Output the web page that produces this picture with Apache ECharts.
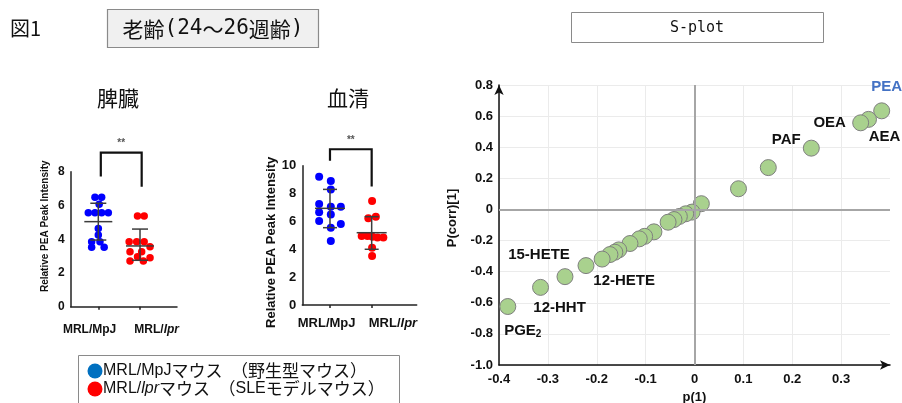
<!DOCTYPE html>
<html>
<head>
<meta charset="utf-8">
<script src="https://cdn.jsdelivr.net/npm/echarts@6/dist/echarts.min.js"></script>
<style>
  html, body { margin: 0; padding: 0; background: #fff; }
  #main { width: 902px; height: 403px; }
</style>
</head>
<body>
<div id="main"></div>
<script>
// Spleen (脾臓): [jitter position, value]
var spleenMpj = [[0.92, 6.48], [1.08, 6.48], [1.02, 6.07], [0.76, 5.57], [0.92, 5.57], [1.08, 5.57], [1.24, 5.57],
    [1.0, 4.64], [1.0, 4.25], [0.84, 3.85], [1.04, 3.85], [0.84, 3.52], [1.14, 3.52]];
var spleenLpr = [[1.94, 5.38], [2.10, 5.38], [1.74, 3.85], [1.92, 3.85], [2.10, 3.85], [2.24, 3.56],
    [1.76, 3.26], [2.04, 3.26], [1.94, 2.96], [2.24, 2.9], [1.76, 2.71], [2.08, 2.71]];
// [group, mean, mean - SD, mean + SD]
var spleenBars = [[1, 5.04, 3.95, 6.13], [2, 3.6, 2.75, 4.6]];
// [x left, left foot, x right, right foot, top]
var spleenBracket = [[1.06, 7.71, 2.04, 7.11, 9.13]];

// Serum (血清)
var serumMpj = [[0.74, 9.21], [1.02, 8.9], [1.02, 8.3], [0.74, 7.25], [1.02, 7.06], [1.26, 7.06], [0.74, 6.65],
    [1.02, 6.5], [0.74, 6.03], [1.26, 5.81], [1.02, 5.55], [1.02, 4.59]];
var serumLpr = [[2.01, 7.46], [2.1, 6.34], [1.92, 6.22], [1.76, 4.95], [1.9, 4.95], [2.02, 4.9],
    [2.14, 4.85], [2.28, 4.85], [2.01, 4.11], [2.01, 3.52]];
var serumBars = [[1, 6.94, 5.55, 8.3], [2, 5.19, 4.0, 6.34]];
var serumBracket = [[1.0, 10.36, 2.0, 8.5, 11.18]];

// S-plot: [p(1), P(corr)[1]]
var splotPoints = [[0.383, 0.634], [0.356, 0.579], [0.340, 0.557], [0.239, 0.394], [0.151, 0.269], [0.090, 0.133],
    [0.014, 0.037], [-0.005, -0.017], [-0.018, -0.028], [-0.031, -0.045], [-0.042, -0.065], [-0.054, -0.082],
    [-0.083, -0.144], [-0.102, -0.173], [-0.113, -0.189], [-0.132, -0.219], [-0.155, -0.26], [-0.163, -0.275],
    [-0.173, -0.29], [-0.189, -0.319], [-0.222, -0.361], [-0.265, -0.432], [-0.315, -0.501], [-0.382, -0.624]];
var splotNames = ['PEA', 'AEA', 'OEA', 'PAF', '', '', '', '', '', '', '', '', '', '', '', '', '', '', '',
    '12-HETE', '15-HETE', '', '12-HHT', 'PGE2'];

var groupNames = ['MRL/MpJ', 'MRL/lpr'];

// label placement around points (px)
var labelOffsets = {
    'PEA': [5, -24], 'AEA': [16, 17], 'OEA': [-31, 0], 'PAF': [-25, -8],
    '12-HETE': [22, 22], '15-HETE': [-47, -11], '12-HHT': [19, 20], 'PGE2': [15, 24]
};

var LATIN = 'Liberation Sans, Arial, sans-serif';
var JP = '"Noto Sans CJK JP", sans-serif';
var MONO = '"DejaVu Sans Mono", monospace';

function errorBarItem(halfMean, halfCap) {
    return function(params, api) {
        var mid = api.coord([api.value(0), api.value(1)]);
        var lo = api.coord([api.value(0), api.value(2)]);
        var hi = api.coord([api.value(0), api.value(3)]);
        var st = { stroke: '#3c3c3c', lineWidth: 1.5 };
        return {
            type: 'group',
            children: [
                { type: 'line', shape: { x1: mid[0] - halfMean, y1: mid[1], x2: mid[0] + halfMean, y2: mid[1] }, style: st },
                { type: 'line', shape: { x1: mid[0], y1: lo[1], x2: mid[0], y2: hi[1] }, style: st },
                { type: 'line', shape: { x1: lo[0] - halfCap, y1: lo[1], x2: lo[0] + halfCap, y2: lo[1] }, style: st },
                { type: 'line', shape: { x1: hi[0] - halfCap, y1: hi[1], x2: hi[0] + halfCap, y2: hi[1] }, style: st }
            ]
        };
    };
}

function bracketItem(params, api) {
    var a = api.coord([api.value(0), api.value(1)]);
    var b = api.coord([api.value(2), api.value(3)]);
    var topY = api.coord([api.value(0), api.value(4)])[1];
    return {
        type: 'group',
        children: [
            { type: 'polyline', shape: { points: [[a[0], a[1]], [a[0], topY], [b[0], topY], [b[0], b[1]]] },
              style: { stroke: '#111', lineWidth: 2.2, fill: null } },
            { type: 'text', x: (a[0] + b[0]) / 2, y: topY - 9,
              style: { text: '**', fill: '#555', font: 'bold 10px ' + LATIN, align: 'center', verticalAlign: 'middle' } }
        ]
    };
}

function groupLabel(fontSize) {
    return {
        color: '#111',
        fontWeight: 'bold',
        fontSize: fontSize,
        fontFamily: LATIN,
        formatter: function(v) {
            return v < 1.5 ? '{n|' + groupNames[0] + '}' : '{n|MRL/}{i|lpr}';
        },
        rich: {
            n: { fontWeight: 'bold', fontSize: fontSize, fontFamily: LATIN, color: '#111' },
            i: { fontWeight: 'bold', fontStyle: 'italic', fontSize: fontSize, fontFamily: LATIN, color: '#111' }
        }
    };
}

function smallYAxis(idx, max, nameSize, labelSize, nameGap, namePad) {
    return {
        type: 'value', gridIndex: idx, min: 0, max: max, interval: 2,
        name: 'Relative PEA Peak Intensity', nameLocation: 'middle', nameGap: nameGap,
        nameTextStyle: { fontWeight: 'bold', fontSize: nameSize, fontFamily: LATIN, color: '#111', padding: namePad },
        axisLine: { show: true, lineStyle: { color: '#222', width: 1.5 } },
        axisTick: { show: false },
        axisLabel: { color: '#111', fontWeight: 'bold', fontSize: labelSize, fontFamily: LATIN, margin: 6 },
        splitLine: { show: false }
    };
}

function decimalLabel(v) {
    return Math.abs(v) < 1e-9 ? '0' : v.toFixed(1);
}

var chart = echarts.init(document.getElementById('main'));

var option = {
    animation: false,
    backgroundColor: '#fff',
    grid: [
        { left: 70.7, top: 171.7, width: 106.3, height: 135, outerBoundsMode: 'none', containLabel: false },
        { left: 302.3, top: 165.7, width: 114.4, height: 139.3, outerBoundsMode: 'none', containLabel: false },
        { left: 499, top: 85, right: 12, bottom: 38, outerBoundsMode: 'none', containLabel: false }
    ],
    xAxis: [
        {
            type: 'value', gridIndex: 0, min: 0.338, max: 2.887,
            axisLine: { show: true, onZero: false, lineStyle: { color: '#222', width: 1.5 } },
            axisTick: { show: true, customValues: [1, 2], length: 3, lineStyle: { color: '#222', width: 1.5 } },
            axisLabel: Object.assign({ customValues: [0.79, 2.4], margin: 17 }, groupLabel(12)),
            splitLine: { show: false }
        },
        {
            type: 'value', gridIndex: 1, min: 0.336, max: 3.08,
            axisLine: { show: true, onZero: false, lineStyle: { color: '#222', width: 1.5 } },
            axisTick: { show: true, customValues: [1, 2], length: 3, lineStyle: { color: '#222', width: 1.5 } },
            axisLabel: Object.assign({ customValues: [0.92, 2.51], margin: 12 }, groupLabel(13)),
            splitLine: { show: false }
        },
        {
            type: 'value', gridIndex: 2, min: -0.4, max: 0.4, interval: 0.1,
            name: 'p(1)', nameLocation: 'middle', nameGap: 26,
            nameTextStyle: { fontWeight: 'bold', fontSize: 13, fontFamily: LATIN, color: '#111' },
            axisLine: { show: true, onZero: false, symbol: ['none', 'arrow'], symbolSize: [7, 10],
                        lineStyle: { color: '#111', width: 1.5 } },
            axisTick: { show: false },
            axisLabel: { color: '#111', fontWeight: 'bold', fontSize: 13, fontFamily: LATIN, margin: 8,
                         showMaxLabel: false, formatter: decimalLabel },
            splitLine: { show: true, showMaxLine: false, lineStyle: { color: '#ebebeb', width: 1 } }
        }
    ],
    yAxis: [
        smallYAxis(0, 8, 10, 12, 20, [0, 0, 0, 26]),
        smallYAxis(1, 10, 13, 13, 24, [0, 14, 0, 0]),
        {
            type: 'value', gridIndex: 2, min: -1, max: 0.8, interval: 0.2,
            name: 'P(corr)[1]', nameLocation: 'middle', nameGap: 40,
            nameTextStyle: { fontWeight: 'bold', fontSize: 13, fontFamily: LATIN, color: '#111', padding: [0, 0, 0, 14] },
            axisLine: { show: true, onZero: false, symbol: ['none', 'arrow'], symbolSize: [7, 10],
                        lineStyle: { color: '#111', width: 1.5 } },
            axisTick: { show: false },
            axisLabel: { color: '#111', fontWeight: 'bold', fontSize: 13, fontFamily: LATIN, margin: 6,
                         formatter: decimalLabel },
            splitLine: { show: true, lineStyle: { color: '#ebebeb', width: 1 } }
        }
    ],
    series: [
        { type: 'scatter', xAxisIndex: 0, yAxisIndex: 0, data: spleenMpj, symbolSize: 7.5,
          itemStyle: { color: '#0000ff', opacity: 1 }, z: 2 },
        { type: 'scatter', xAxisIndex: 0, yAxisIndex: 0, data: spleenLpr, symbolSize: 7.5,
          itemStyle: { color: '#ff0000', opacity: 1 }, z: 2 },
        { type: 'custom', xAxisIndex: 0, yAxisIndex: 0, data: spleenBars, renderItem: errorBarItem(14, 8), z: 3 },
        { type: 'custom', xAxisIndex: 0, yAxisIndex: 0, data: spleenBracket, renderItem: bracketItem, clip: false, z: 3 },

        { type: 'scatter', xAxisIndex: 1, yAxisIndex: 1, data: serumMpj, symbolSize: 8,
          itemStyle: { color: '#0000ff', opacity: 1 }, z: 2 },
        { type: 'scatter', xAxisIndex: 1, yAxisIndex: 1, data: serumLpr, symbolSize: 8,
          itemStyle: { color: '#ff0000', opacity: 1 }, z: 2 },
        { type: 'custom', xAxisIndex: 1, yAxisIndex: 1, data: serumBars, renderItem: errorBarItem(15, 7), z: 3 },
        { type: 'custom', xAxisIndex: 1, yAxisIndex: 1, data: serumBracket, renderItem: bracketItem, clip: false, z: 3 },

        {
            type: 'scatter', xAxisIndex: 2, yAxisIndex: 2, symbolSize: 16, z: 4,
            itemStyle: { color: '#a9d18e', borderColor: '#7f7f7f', borderWidth: 1, opacity: 1 },
            data: splotPoints.map(function(p, i) {
                var name = splotNames[i];
                var item = { value: p, name: name };
                if (name) {
                    var isPge = name === 'PGE2';
                    item.label = {
                        show: true, position: 'inside', offset: labelOffsets[name],
                        formatter: isPge ? '{b|PGE}{s|2}' : name,
                        color: name === 'PEA' ? '#4472c4' : '#111',
                        fontWeight: 'bold', fontSize: 15, fontFamily: LATIN,
                        rich: {
                            b: { fontWeight: 'bold', fontSize: 15, fontFamily: LATIN, color: '#111' },
                            s: { fontWeight: 'bold', fontSize: 10, fontFamily: LATIN, color: '#111', padding: [8, 0, 0, 0] }
                        }
                    };
                }
                return item;
            }),
            markLine: {
                silent: true, symbol: 'none', label: { show: false },
                lineStyle: { color: '#a6a6a6', width: 2, type: 'solid' },
                data: [{ xAxis: 0 }, { yAxis: 0 }]
            }
        }
    ],
    graphic: [
        { type: 'text', x: 10, y: 28, style: { text: '図1', font: '20px ' + JP, fill: '#111', verticalAlign: 'middle' } },
        { type: 'rect', shape: { x: 107.5, y: 9.5, width: 211, height: 38 },
          style: { fill: '#f0f0f0', stroke: '#8a8a8a', lineWidth: 1.2 } },
        { type: 'text', x: 213, y: 29, style: {
            text: '{j|老齢}{m|(24}{j|〜}{m|26}{j|週齢}{m|)}', align: 'center', verticalAlign: 'middle',
            rich: {
                j: { font: '21px ' + JP, fill: '#111' },
                m: { font: '21px ' + MONO, fill: '#111' }
            } } },
        { type: 'rect', shape: { x: 571.5, y: 12.5, width: 252, height: 30 },
          style: { fill: '#fff', stroke: '#8a8a8a', lineWidth: 1 } },
        { type: 'text', x: 697, y: 28, style: { text: 'S-plot', font: '15px ' + MONO, fill: '#111',
          align: 'center', verticalAlign: 'middle' } },
        { type: 'text', x: 118, y: 98, style: { text: '脾臓', font: '21px ' + JP, fill: '#111',
          align: 'center', verticalAlign: 'middle' } },
        { type: 'text', x: 348, y: 98, style: { text: '血清', font: '21px ' + JP, fill: '#111',
          align: 'center', verticalAlign: 'middle' } },
        { type: 'rect', shape: { x: 78.5, y: 355.5, width: 321, height: 60 },
          style: { fill: '#fff', stroke: '#8a8a8a', lineWidth: 1 } },
        { type: 'circle', shape: { cx: 95, cy: 371, r: 7.5 }, style: { fill: '#0070c0' } },
        { type: 'text', x: 103, y: 371, style: {
            text: '{l|MRL/MpJ}{j|マウス　（野生型マウス）}', verticalAlign: 'middle',
            rich: {
                l: { font: '16px ' + LATIN, fill: '#111' },
                j: { font: '17px ' + JP, fill: '#111' }
            } } },
        { type: 'circle', shape: { cx: 95, cy: 389, r: 7.5 }, style: { fill: '#ff0000' } },
        { type: 'text', x: 103, y: 389, style: {
            text: '{l|MRL/}{i|lpr}{j|マウス　（}{l|SLE}{j|モデルマウス）}', verticalAlign: 'middle',
            rich: {
                l: { font: '16px ' + LATIN, fill: '#111' },
                i: { font: 'italic 16px ' + LATIN, fill: '#111' },
                j: { font: '17px ' + JP, fill: '#111' }
            } } }
    ]
};

chart.setOption(option);
</script>
</body>
</html>
